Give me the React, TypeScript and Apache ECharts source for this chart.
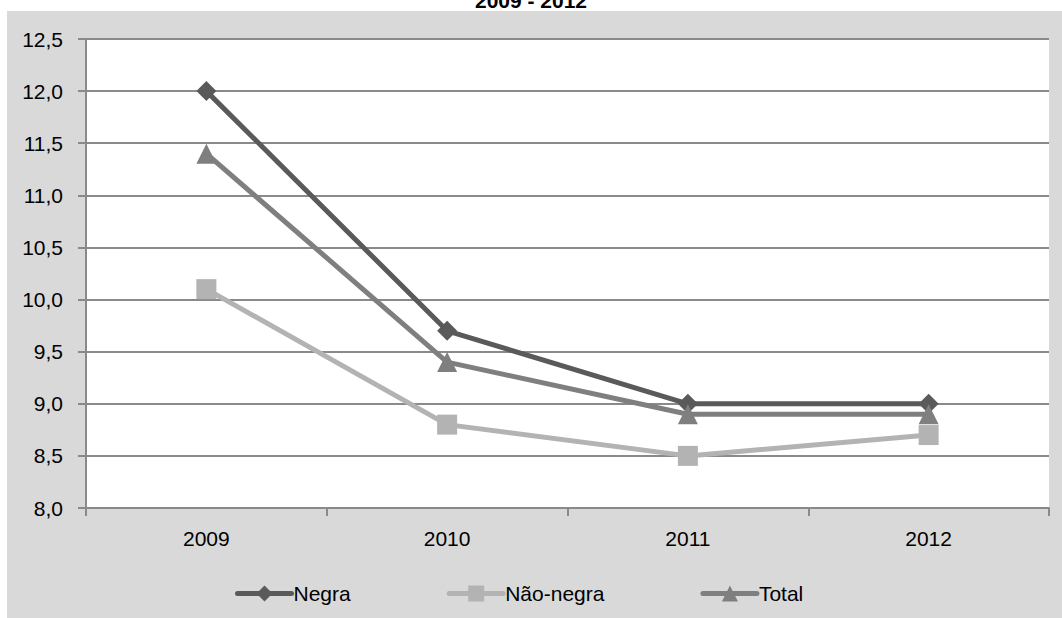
import React, { useEffect, useRef } from "react";
import * as echarts from "echarts";

const years = ["2009", "2010", "2011", "2012"];
const negra = [12.0, 9.7, 9.0, 9.0];
const naoNegra = [10.1, 8.8, 8.5, 8.7];
const total = [11.4, 9.4, 8.9, 8.9];
const titleText = "2009 - 2012";

const FONT = "'Liberation Sans', Arial, sans-serif";
const GRID_COLOR = "#8a8a8a";

export default function App() {
  const ref = useRef<HTMLDivElement>(null);
  useEffect(() => {
    if (!ref.current) return;
    const chart = echarts.init(ref.current, null, { renderer: "svg" });
    const mk = (name: string, data: number[], color: string, symbol: string, size: number) => ({
      name,
      type: "line",
      data,
      symbol,
      symbolSize: size,
      showAllSymbol: true,
      lineStyle: { color, width: 5, cap: "round" },
      itemStyle: { color, borderWidth: 0 },
      emphasis: { disabled: true },
    });
    chart.setOption({
      animation: false,
      backgroundColor: "transparent",
      textStyle: { fontFamily: FONT },
      graphic: [
        {
          type: "text",
          x: 531,
          y: 0,
          style: {
            text: titleText,
            align: "center",
            verticalAlign: "middle",
            font: `bold 21px ${FONT}`,
            fill: "#000",
          },
        },
      ],
      grid: {
        left: 86,
        right: 13,
        top: 39,
        bottom: 110,
        show: true,
        backgroundColor: "#ffffff",
        borderWidth: 0,
      },
      legend: {
        left: 230,
        top: 578,
        itemWidth: 54,
        itemHeight: 20,
        itemGap: 96,
        lineStyle: { width: 5, cap: "round" },
        textStyle: { fontFamily: FONT, fontSize: 21, color: "#000", padding: [0, 0, 0, -3] },
        data: ["Negra", "Não-negra", "Total"],
      },
      xAxis: {
        type: "category",
        data: years,
        boundaryGap: true,
        axisLine: { show: true, lineStyle: { color: GRID_COLOR, width: 2 } },
        axisTick: { show: true, length: 8, lineStyle: { color: GRID_COLOR, width: 2 } },
        axisLabel: { fontFamily: FONT, fontSize: 21, color: "#000", margin: 20 },
        splitLine: { show: false },
      },
      yAxis: {
        type: "value",
        min: 8,
        max: 12.5,
        interval: 0.5,
        axisLine: { show: true, lineStyle: { color: GRID_COLOR, width: 2 } },
        axisTick: { show: true, length: 8, lineStyle: { color: GRID_COLOR, width: 2 } },
        axisLabel: {
          fontFamily: FONT,
          fontSize: 21,
          color: "#000",
          margin: 23,
          formatter: (v: number) => v.toFixed(1).replace(".", ","),
        },
        splitLine: { show: true, lineStyle: { color: GRID_COLOR, width: 2 } },
      },
      series: [
        mk("Negra", negra, "#5a5a5a", "diamond", 20),
        mk("Não-negra", naoNegra, "#b3b3b3", "rect", 20),
        mk("Total", total, "#7f7f7f", "triangle", 20),
      ],
    });
    return () => chart.dispose();
  }, []);
  return (
    <div style={{ position: "absolute", left: 0, top: 0, width: 1062, height: 618, background: "#fff" }}>
      <div style={{ position: "absolute", left: 7, top: 11, width: 1055, height: 607, background: "#d9d9d9" }} />
      <div ref={ref} style={{ position: "absolute", left: 0, top: 0, width: 1062, height: 618 }} />
    </div>
  );
}
